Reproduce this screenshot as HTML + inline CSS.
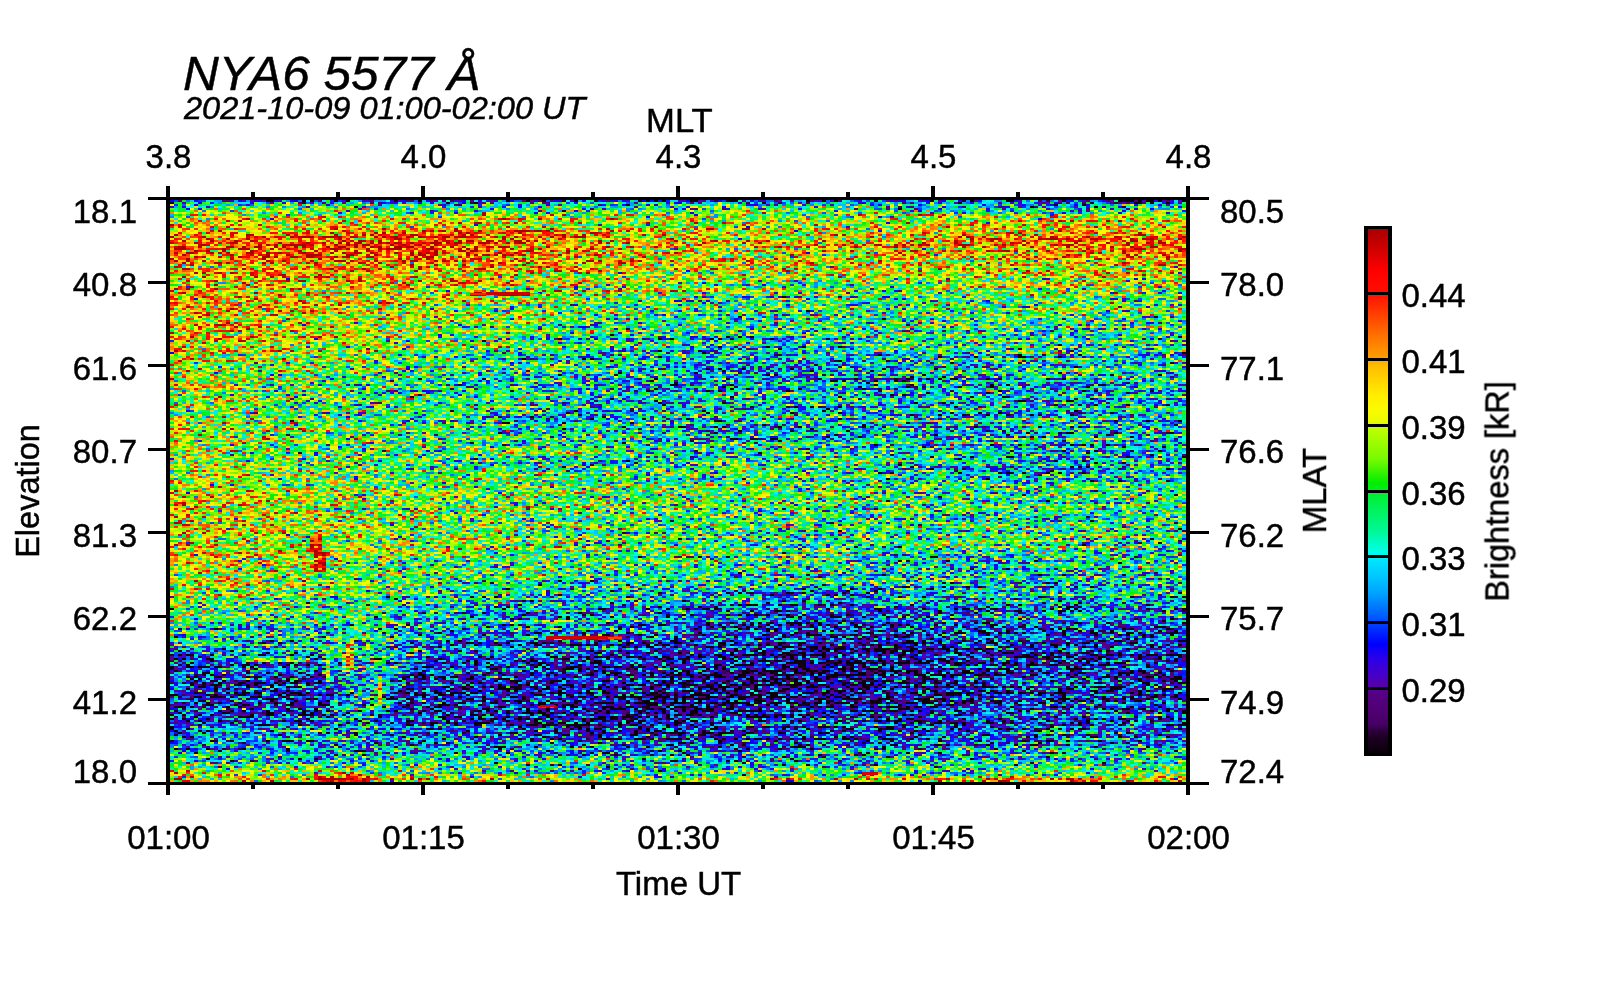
<!DOCTYPE html>
<html lang="en"><head><meta charset="utf-8"><title>NYA6 5577 Å keogram</title>
<style>
html,body{margin:0;padding:0;background:#fff;overflow:hidden}
svg{display:block}
text{font-family:"Liberation Sans",sans-serif;fill:#000;stroke:#000;stroke-width:0.45px}
</style></head><body>
<svg width="1600" height="1000" viewBox="0 0 1600 1000">
<defs>
<linearGradient id="c0" x1="0" y1="0" x2="0" y2="582" gradientUnits="userSpaceOnUse"><stop offset="0.0000" stop-color="#383838"/><stop offset="0.0034" stop-color="#4c4c4c"/><stop offset="0.0069" stop-color="#6e6e6e"/><stop offset="0.0155" stop-color="#787878"/><stop offset="0.0241" stop-color="#999999"/><stop offset="0.0378" stop-color="#a3a3a3"/><stop offset="0.0550" stop-color="#bababa"/><stop offset="0.0687" stop-color="#d1d1d1"/><stop offset="0.0790" stop-color="#d1d1d1"/><stop offset="0.0928" stop-color="#c7c7c7"/><stop offset="0.1100" stop-color="#bfbfbf"/><stop offset="0.1289" stop-color="#b6b6b6"/><stop offset="0.1495" stop-color="#b4b4b4"/><stop offset="0.1718" stop-color="#b6b6b6"/><stop offset="0.1924" stop-color="#b4b4b4"/><stop offset="0.2354" stop-color="#acacac"/><stop offset="0.2784" stop-color="#9f9f9f"/><stop offset="0.3213" stop-color="#9f9f9f"/><stop offset="0.3643" stop-color="#9d9d9d"/><stop offset="0.4072" stop-color="#9d9d9d"/><stop offset="0.4502" stop-color="#9d9d9d"/><stop offset="0.4931" stop-color="#a4a4a4"/><stop offset="0.5361" stop-color="#aaaaaa"/><stop offset="0.5790" stop-color="#a7a7a7"/><stop offset="0.6048" stop-color="#a4a4a4"/><stop offset="0.6220" stop-color="#a2a2a2"/><stop offset="0.6495" stop-color="#9f9f9f"/><stop offset="0.6701" stop-color="#999999"/><stop offset="0.6907" stop-color="#898989"/><stop offset="0.7113" stop-color="#7a7a7a"/><stop offset="0.7354" stop-color="#6a6a6a"/><stop offset="0.7560" stop-color="#5d5d5d"/><stop offset="0.7766" stop-color="#4f4f4f"/><stop offset="0.7990" stop-color="#404040"/><stop offset="0.8196" stop-color="#2f2f2f"/><stop offset="0.8419" stop-color="#2b2b2b"/><stop offset="0.8625" stop-color="#2f2f2f"/><stop offset="0.8849" stop-color="#363636"/><stop offset="0.9055" stop-color="#404040"/><stop offset="0.9364" stop-color="#545454"/><stop offset="0.9588" stop-color="#6e6e6e"/><stop offset="0.9794" stop-color="#949494"/><stop offset="0.9897" stop-color="#afafaf"/><stop offset="1.0000" stop-color="#c2c2c2"/></linearGradient>
<linearGradient id="c1" x1="0" y1="0" x2="0" y2="582" gradientUnits="userSpaceOnUse"><stop offset="0.0000" stop-color="#383838"/><stop offset="0.0034" stop-color="#4c4c4c"/><stop offset="0.0069" stop-color="#6e6e6e"/><stop offset="0.0155" stop-color="#787878"/><stop offset="0.0241" stop-color="#999999"/><stop offset="0.0378" stop-color="#a3a3a3"/><stop offset="0.0550" stop-color="#bababa"/><stop offset="0.0687" stop-color="#d1d1d1"/><stop offset="0.0790" stop-color="#d1d1d1"/><stop offset="0.0928" stop-color="#c7c7c7"/><stop offset="0.1100" stop-color="#bfbfbf"/><stop offset="0.1289" stop-color="#b6b6b6"/><stop offset="0.1495" stop-color="#b2b2b2"/><stop offset="0.1718" stop-color="#b2b2b2"/><stop offset="0.1924" stop-color="#afafaf"/><stop offset="0.2354" stop-color="#a8a8a8"/><stop offset="0.2784" stop-color="#9b9b9b"/><stop offset="0.3213" stop-color="#9b9b9b"/><stop offset="0.3643" stop-color="#989898"/><stop offset="0.4072" stop-color="#989898"/><stop offset="0.4502" stop-color="#989898"/><stop offset="0.4931" stop-color="#a0a0a0"/><stop offset="0.5361" stop-color="#a5a5a5"/><stop offset="0.5790" stop-color="#a3a3a3"/><stop offset="0.6048" stop-color="#a0a0a0"/><stop offset="0.6220" stop-color="#9e9e9e"/><stop offset="0.6495" stop-color="#9a9a9a"/><stop offset="0.6701" stop-color="#959595"/><stop offset="0.6907" stop-color="#898989"/><stop offset="0.7113" stop-color="#7a7a7a"/><stop offset="0.7354" stop-color="#6a6a6a"/><stop offset="0.7560" stop-color="#5d5d5d"/><stop offset="0.7766" stop-color="#4f4f4f"/><stop offset="0.7990" stop-color="#404040"/><stop offset="0.8196" stop-color="#2f2f2f"/><stop offset="0.8419" stop-color="#2b2b2b"/><stop offset="0.8625" stop-color="#2f2f2f"/><stop offset="0.8849" stop-color="#363636"/><stop offset="0.9055" stop-color="#404040"/><stop offset="0.9364" stop-color="#545454"/><stop offset="0.9588" stop-color="#6e6e6e"/><stop offset="0.9794" stop-color="#949494"/><stop offset="0.9897" stop-color="#afafaf"/><stop offset="1.0000" stop-color="#c2c2c2"/></linearGradient>
<linearGradient id="c2" x1="0" y1="0" x2="0" y2="582" gradientUnits="userSpaceOnUse"><stop offset="0.0000" stop-color="#383838"/><stop offset="0.0034" stop-color="#4c4c4c"/><stop offset="0.0069" stop-color="#6e6e6e"/><stop offset="0.0155" stop-color="#787878"/><stop offset="0.0241" stop-color="#9b9b9b"/><stop offset="0.0378" stop-color="#a8a8a8"/><stop offset="0.0550" stop-color="#c1c1c1"/><stop offset="0.0687" stop-color="#dadada"/><stop offset="0.0790" stop-color="#dadada"/><stop offset="0.0928" stop-color="#cbcbcb"/><stop offset="0.1100" stop-color="#c1c1c1"/><stop offset="0.1289" stop-color="#b8b8b8"/><stop offset="0.1495" stop-color="#b1b1b1"/><stop offset="0.1718" stop-color="#a7a7a7"/><stop offset="0.1924" stop-color="#a1a1a1"/><stop offset="0.2354" stop-color="#9b9b9b"/><stop offset="0.2784" stop-color="#8c8c8c"/><stop offset="0.3213" stop-color="#8b8b8b"/><stop offset="0.3643" stop-color="#898989"/><stop offset="0.4072" stop-color="#8a8a8a"/><stop offset="0.4502" stop-color="#8b8b8b"/><stop offset="0.4931" stop-color="#959595"/><stop offset="0.5361" stop-color="#9a9a9a"/><stop offset="0.5790" stop-color="#979797"/><stop offset="0.6048" stop-color="#939393"/><stop offset="0.6220" stop-color="#909090"/><stop offset="0.6495" stop-color="#8b8b8b"/><stop offset="0.6701" stop-color="#868686"/><stop offset="0.6907" stop-color="#7e7e7e"/><stop offset="0.7113" stop-color="#717171"/><stop offset="0.7354" stop-color="#626262"/><stop offset="0.7560" stop-color="#575757"/><stop offset="0.7766" stop-color="#4b4b4b"/><stop offset="0.7990" stop-color="#3c3c3c"/><stop offset="0.8196" stop-color="#2e2e2e"/><stop offset="0.8419" stop-color="#2a2a2a"/><stop offset="0.8625" stop-color="#2d2d2d"/><stop offset="0.8849" stop-color="#343434"/><stop offset="0.9055" stop-color="#3d3d3d"/><stop offset="0.9364" stop-color="#515151"/><stop offset="0.9588" stop-color="#6c6c6c"/><stop offset="0.9794" stop-color="#8c8c8c"/><stop offset="0.9897" stop-color="#a5a5a5"/><stop offset="1.0000" stop-color="#bababa"/></linearGradient>
<linearGradient id="c3" x1="0" y1="0" x2="0" y2="582" gradientUnits="userSpaceOnUse"><stop offset="0.0000" stop-color="#383838"/><stop offset="0.0034" stop-color="#4c4c4c"/><stop offset="0.0069" stop-color="#6e6e6e"/><stop offset="0.0155" stop-color="#787878"/><stop offset="0.0241" stop-color="#9d9d9d"/><stop offset="0.0378" stop-color="#afafaf"/><stop offset="0.0550" stop-color="#cdcdcd"/><stop offset="0.0687" stop-color="#e8e8e8"/><stop offset="0.0790" stop-color="#e8e8e8"/><stop offset="0.0928" stop-color="#d3d3d3"/><stop offset="0.1100" stop-color="#c5c5c5"/><stop offset="0.1289" stop-color="#b9b9b9"/><stop offset="0.1495" stop-color="#b2b2b2"/><stop offset="0.1718" stop-color="#a1a1a1"/><stop offset="0.1924" stop-color="#969696"/><stop offset="0.2354" stop-color="#929292"/><stop offset="0.2784" stop-color="#808080"/><stop offset="0.3213" stop-color="#7b7b7b"/><stop offset="0.3643" stop-color="#7b7b7b"/><stop offset="0.4072" stop-color="#7f7f7f"/><stop offset="0.4502" stop-color="#818181"/><stop offset="0.4931" stop-color="#8f8f8f"/><stop offset="0.5361" stop-color="#929292"/><stop offset="0.5790" stop-color="#8f8f8f"/><stop offset="0.6048" stop-color="#898989"/><stop offset="0.6220" stop-color="#848484"/><stop offset="0.6495" stop-color="#7d7d7d"/><stop offset="0.6701" stop-color="#767676"/><stop offset="0.6907" stop-color="#6c6c6c"/><stop offset="0.7113" stop-color="#626262"/><stop offset="0.7354" stop-color="#565656"/><stop offset="0.7560" stop-color="#4c4c4c"/><stop offset="0.7766" stop-color="#434343"/><stop offset="0.7990" stop-color="#363636"/><stop offset="0.8196" stop-color="#2c2c2c"/><stop offset="0.8419" stop-color="#2a2a2a"/><stop offset="0.8625" stop-color="#2a2a2a"/><stop offset="0.8849" stop-color="#313131"/><stop offset="0.9055" stop-color="#383838"/><stop offset="0.9364" stop-color="#4c4c4c"/><stop offset="0.9588" stop-color="#686868"/><stop offset="0.9794" stop-color="#808080"/><stop offset="0.9897" stop-color="#959595"/><stop offset="1.0000" stop-color="#adadad"/></linearGradient>
<linearGradient id="c4" x1="0" y1="0" x2="0" y2="582" gradientUnits="userSpaceOnUse"><stop offset="0.0000" stop-color="#373737"/><stop offset="0.0034" stop-color="#494949"/><stop offset="0.0069" stop-color="#6b6b6b"/><stop offset="0.0155" stop-color="#767676"/><stop offset="0.0241" stop-color="#9a9a9a"/><stop offset="0.0378" stop-color="#ababab"/><stop offset="0.0550" stop-color="#c7c7c7"/><stop offset="0.0687" stop-color="#dddddd"/><stop offset="0.0790" stop-color="#dedede"/><stop offset="0.0928" stop-color="#cccccc"/><stop offset="0.1100" stop-color="#bdbdbd"/><stop offset="0.1289" stop-color="#b2b2b2"/><stop offset="0.1495" stop-color="#aaaaaa"/><stop offset="0.1718" stop-color="#959595"/><stop offset="0.1924" stop-color="#888888"/><stop offset="0.2354" stop-color="#858585"/><stop offset="0.2784" stop-color="#707070"/><stop offset="0.3213" stop-color="#6b6b6b"/><stop offset="0.3643" stop-color="#6e6e6e"/><stop offset="0.4072" stop-color="#757575"/><stop offset="0.4502" stop-color="#797979"/><stop offset="0.4931" stop-color="#8a8a8a"/><stop offset="0.5361" stop-color="#8c8c8c"/><stop offset="0.5790" stop-color="#898989"/><stop offset="0.6048" stop-color="#828282"/><stop offset="0.6220" stop-color="#7e7e7e"/><stop offset="0.6495" stop-color="#757575"/><stop offset="0.6701" stop-color="#6d6d6d"/><stop offset="0.6907" stop-color="#616161"/><stop offset="0.7113" stop-color="#575757"/><stop offset="0.7354" stop-color="#4c4c4c"/><stop offset="0.7560" stop-color="#434343"/><stop offset="0.7766" stop-color="#3a3a3a"/><stop offset="0.7990" stop-color="#2e2e2e"/><stop offset="0.8196" stop-color="#272727"/><stop offset="0.8419" stop-color="#262626"/><stop offset="0.8625" stop-color="#252525"/><stop offset="0.8849" stop-color="#2b2b2b"/><stop offset="0.9055" stop-color="#313131"/><stop offset="0.9364" stop-color="#464646"/><stop offset="0.9588" stop-color="#616161"/><stop offset="0.9794" stop-color="#757575"/><stop offset="0.9897" stop-color="#898989"/><stop offset="1.0000" stop-color="#a2a2a2"/></linearGradient>
<linearGradient id="c5" x1="0" y1="0" x2="0" y2="582" gradientUnits="userSpaceOnUse"><stop offset="0.0000" stop-color="#343434"/><stop offset="0.0034" stop-color="#444444"/><stop offset="0.0069" stop-color="#686868"/><stop offset="0.0155" stop-color="#727272"/><stop offset="0.0241" stop-color="#929292"/><stop offset="0.0378" stop-color="#a0a0a0"/><stop offset="0.0550" stop-color="#b5b5b5"/><stop offset="0.0687" stop-color="#c3c3c3"/><stop offset="0.0790" stop-color="#c6c6c6"/><stop offset="0.0928" stop-color="#bababa"/><stop offset="0.1100" stop-color="#afafaf"/><stop offset="0.1289" stop-color="#a5a5a5"/><stop offset="0.1495" stop-color="#9c9c9c"/><stop offset="0.1718" stop-color="#868686"/><stop offset="0.1924" stop-color="#797979"/><stop offset="0.2354" stop-color="#747474"/><stop offset="0.2784" stop-color="#606060"/><stop offset="0.3213" stop-color="#5b5b5b"/><stop offset="0.3643" stop-color="#636363"/><stop offset="0.4072" stop-color="#6c6c6c"/><stop offset="0.4502" stop-color="#737373"/><stop offset="0.4931" stop-color="#868686"/><stop offset="0.5361" stop-color="#878787"/><stop offset="0.5790" stop-color="#848484"/><stop offset="0.6048" stop-color="#7f7f7f"/><stop offset="0.6220" stop-color="#7b7b7b"/><stop offset="0.6495" stop-color="#727272"/><stop offset="0.6701" stop-color="#696969"/><stop offset="0.6907" stop-color="#595959"/><stop offset="0.7113" stop-color="#4f4f4f"/><stop offset="0.7354" stop-color="#434343"/><stop offset="0.7560" stop-color="#3a3a3a"/><stop offset="0.7766" stop-color="#313131"/><stop offset="0.7990" stop-color="#272727"/><stop offset="0.8196" stop-color="#1f1f1f"/><stop offset="0.8419" stop-color="#1f1f1f"/><stop offset="0.8625" stop-color="#1f1f1f"/><stop offset="0.8849" stop-color="#242424"/><stop offset="0.9055" stop-color="#292929"/><stop offset="0.9364" stop-color="#404040"/><stop offset="0.9588" stop-color="#5a5a5a"/><stop offset="0.9794" stop-color="#6c6c6c"/><stop offset="0.9897" stop-color="#7e7e7e"/><stop offset="1.0000" stop-color="#989898"/></linearGradient>
<linearGradient id="c6" x1="0" y1="0" x2="0" y2="582" gradientUnits="userSpaceOnUse"><stop offset="0.0000" stop-color="#313131"/><stop offset="0.0034" stop-color="#414141"/><stop offset="0.0069" stop-color="#616161"/><stop offset="0.0155" stop-color="#6c6c6c"/><stop offset="0.0241" stop-color="#8c8c8c"/><stop offset="0.0378" stop-color="#989898"/><stop offset="0.0550" stop-color="#ababab"/><stop offset="0.0687" stop-color="#b5b5b5"/><stop offset="0.0790" stop-color="#b9b9b9"/><stop offset="0.0928" stop-color="#b1b1b1"/><stop offset="0.1100" stop-color="#a8a8a8"/><stop offset="0.1289" stop-color="#9d9d9d"/><stop offset="0.1495" stop-color="#919191"/><stop offset="0.1718" stop-color="#7e7e7e"/><stop offset="0.1924" stop-color="#747474"/><stop offset="0.2354" stop-color="#707070"/><stop offset="0.2784" stop-color="#5c5c5c"/><stop offset="0.3213" stop-color="#565656"/><stop offset="0.3643" stop-color="#5e5e5e"/><stop offset="0.4072" stop-color="#676767"/><stop offset="0.4502" stop-color="#6e6e6e"/><stop offset="0.4931" stop-color="#818181"/><stop offset="0.5361" stop-color="#828282"/><stop offset="0.5790" stop-color="#808080"/><stop offset="0.6048" stop-color="#7c7c7c"/><stop offset="0.6220" stop-color="#787878"/><stop offset="0.6495" stop-color="#6f6f6f"/><stop offset="0.6701" stop-color="#636363"/><stop offset="0.6907" stop-color="#515151"/><stop offset="0.7113" stop-color="#464646"/><stop offset="0.7354" stop-color="#393939"/><stop offset="0.7560" stop-color="#313131"/><stop offset="0.7766" stop-color="#292929"/><stop offset="0.7990" stop-color="#212121"/><stop offset="0.8196" stop-color="#1a1a1a"/><stop offset="0.8419" stop-color="#1a1a1a"/><stop offset="0.8625" stop-color="#1a1a1a"/><stop offset="0.8849" stop-color="#202020"/><stop offset="0.9055" stop-color="#262626"/><stop offset="0.9364" stop-color="#3d3d3d"/><stop offset="0.9588" stop-color="#575757"/><stop offset="0.9794" stop-color="#696969"/><stop offset="0.9897" stop-color="#7c7c7c"/><stop offset="1.0000" stop-color="#979797"/></linearGradient>
<linearGradient id="c7" x1="0" y1="0" x2="0" y2="582" gradientUnits="userSpaceOnUse"><stop offset="0.0000" stop-color="#2f2f2f"/><stop offset="0.0034" stop-color="#3e3e3e"/><stop offset="0.0069" stop-color="#5a5a5a"/><stop offset="0.0155" stop-color="#646464"/><stop offset="0.0241" stop-color="#878787"/><stop offset="0.0378" stop-color="#939393"/><stop offset="0.0550" stop-color="#a6a6a6"/><stop offset="0.0687" stop-color="#b0b0b0"/><stop offset="0.0790" stop-color="#b4b4b4"/><stop offset="0.0928" stop-color="#adadad"/><stop offset="0.1100" stop-color="#a5a5a5"/><stop offset="0.1289" stop-color="#979797"/><stop offset="0.1495" stop-color="#888888"/><stop offset="0.1718" stop-color="#7b7b7b"/><stop offset="0.1924" stop-color="#777777"/><stop offset="0.2354" stop-color="#747474"/><stop offset="0.2784" stop-color="#616161"/><stop offset="0.3213" stop-color="#5a5a5a"/><stop offset="0.3643" stop-color="#5c5c5c"/><stop offset="0.4072" stop-color="#646464"/><stop offset="0.4502" stop-color="#6a6a6a"/><stop offset="0.4931" stop-color="#7a7a7a"/><stop offset="0.5361" stop-color="#7c7c7c"/><stop offset="0.5790" stop-color="#7c7c7c"/><stop offset="0.6048" stop-color="#797979"/><stop offset="0.6220" stop-color="#747474"/><stop offset="0.6495" stop-color="#6c6c6c"/><stop offset="0.6701" stop-color="#5c5c5c"/><stop offset="0.6907" stop-color="#484848"/><stop offset="0.7113" stop-color="#3d3d3d"/><stop offset="0.7354" stop-color="#2f2f2f"/><stop offset="0.7560" stop-color="#282828"/><stop offset="0.7766" stop-color="#222222"/><stop offset="0.7990" stop-color="#1c1c1c"/><stop offset="0.8196" stop-color="#181818"/><stop offset="0.8419" stop-color="#161616"/><stop offset="0.8625" stop-color="#181818"/><stop offset="0.8849" stop-color="#1f1f1f"/><stop offset="0.9055" stop-color="#262626"/><stop offset="0.9364" stop-color="#3d3d3d"/><stop offset="0.9588" stop-color="#575757"/><stop offset="0.9794" stop-color="#696969"/><stop offset="0.9897" stop-color="#7e7e7e"/><stop offset="1.0000" stop-color="#9c9c9c"/></linearGradient>
<linearGradient id="c8" x1="0" y1="0" x2="0" y2="582" gradientUnits="userSpaceOnUse"><stop offset="0.0000" stop-color="#2d2d2d"/><stop offset="0.0034" stop-color="#3c3c3c"/><stop offset="0.0069" stop-color="#5c5c5c"/><stop offset="0.0155" stop-color="#676767"/><stop offset="0.0241" stop-color="#8b8b8b"/><stop offset="0.0378" stop-color="#979797"/><stop offset="0.0550" stop-color="#ababab"/><stop offset="0.0687" stop-color="#b6b6b6"/><stop offset="0.0790" stop-color="#b9b9b9"/><stop offset="0.0928" stop-color="#b2b2b2"/><stop offset="0.1100" stop-color="#a9a9a9"/><stop offset="0.1289" stop-color="#9a9a9a"/><stop offset="0.1495" stop-color="#888888"/><stop offset="0.1718" stop-color="#7c7c7c"/><stop offset="0.1924" stop-color="#787878"/><stop offset="0.2354" stop-color="#737373"/><stop offset="0.2784" stop-color="#626262"/><stop offset="0.3213" stop-color="#5b5b5b"/><stop offset="0.3643" stop-color="#5b5b5b"/><stop offset="0.4072" stop-color="#616161"/><stop offset="0.4502" stop-color="#676767"/><stop offset="0.4931" stop-color="#767676"/><stop offset="0.5361" stop-color="#797979"/><stop offset="0.5790" stop-color="#797979"/><stop offset="0.6048" stop-color="#787878"/><stop offset="0.6220" stop-color="#717171"/><stop offset="0.6495" stop-color="#676767"/><stop offset="0.6701" stop-color="#595959"/><stop offset="0.6907" stop-color="#4a4a4a"/><stop offset="0.7113" stop-color="#3f3f3f"/><stop offset="0.7354" stop-color="#333333"/><stop offset="0.7560" stop-color="#2b2b2b"/><stop offset="0.7766" stop-color="#242424"/><stop offset="0.7990" stop-color="#1f1f1f"/><stop offset="0.8196" stop-color="#1d1d1d"/><stop offset="0.8419" stop-color="#1d1d1d"/><stop offset="0.8625" stop-color="#202020"/><stop offset="0.8849" stop-color="#282828"/><stop offset="0.9055" stop-color="#303030"/><stop offset="0.9364" stop-color="#454545"/><stop offset="0.9588" stop-color="#5a5a5a"/><stop offset="0.9794" stop-color="#6d6d6d"/><stop offset="0.9897" stop-color="#868686"/><stop offset="1.0000" stop-color="#a8a8a8"/></linearGradient>
<linearGradient id="c9" x1="0" y1="0" x2="0" y2="582" gradientUnits="userSpaceOnUse"><stop offset="0.0000" stop-color="#2b2b2b"/><stop offset="0.0034" stop-color="#3a3a3a"/><stop offset="0.0069" stop-color="#646464"/><stop offset="0.0155" stop-color="#717171"/><stop offset="0.0241" stop-color="#959595"/><stop offset="0.0378" stop-color="#a2a2a2"/><stop offset="0.0550" stop-color="#b7b7b7"/><stop offset="0.0687" stop-color="#c4c4c4"/><stop offset="0.0790" stop-color="#c6c6c6"/><stop offset="0.0928" stop-color="#bdbdbd"/><stop offset="0.1100" stop-color="#b1b1b1"/><stop offset="0.1289" stop-color="#a1a1a1"/><stop offset="0.1495" stop-color="#8e8e8e"/><stop offset="0.1718" stop-color="#808080"/><stop offset="0.1924" stop-color="#787878"/><stop offset="0.2354" stop-color="#6f6f6f"/><stop offset="0.2784" stop-color="#5f5f5f"/><stop offset="0.3213" stop-color="#595959"/><stop offset="0.3643" stop-color="#595959"/><stop offset="0.4072" stop-color="#5d5d5d"/><stop offset="0.4502" stop-color="#646464"/><stop offset="0.4931" stop-color="#737373"/><stop offset="0.5361" stop-color="#777777"/><stop offset="0.5790" stop-color="#787878"/><stop offset="0.6048" stop-color="#787878"/><stop offset="0.6220" stop-color="#6e6e6e"/><stop offset="0.6495" stop-color="#616161"/><stop offset="0.6701" stop-color="#595959"/><stop offset="0.6907" stop-color="#505050"/><stop offset="0.7113" stop-color="#474747"/><stop offset="0.7354" stop-color="#3c3c3c"/><stop offset="0.7560" stop-color="#333333"/><stop offset="0.7766" stop-color="#2c2c2c"/><stop offset="0.7990" stop-color="#282828"/><stop offset="0.8196" stop-color="#272727"/><stop offset="0.8419" stop-color="#2a2a2a"/><stop offset="0.8625" stop-color="#2e2e2e"/><stop offset="0.8849" stop-color="#363636"/><stop offset="0.9055" stop-color="#3f3f3f"/><stop offset="0.9364" stop-color="#505050"/><stop offset="0.9588" stop-color="#5f5f5f"/><stop offset="0.9794" stop-color="#747474"/><stop offset="0.9897" stop-color="#909090"/><stop offset="1.0000" stop-color="#b8b8b8"/></linearGradient>
<linearGradient id="c10" x1="0" y1="0" x2="0" y2="582" gradientUnits="userSpaceOnUse"><stop offset="0.0000" stop-color="#292929"/><stop offset="0.0034" stop-color="#383838"/><stop offset="0.0069" stop-color="#6b6b6b"/><stop offset="0.0155" stop-color="#7a7a7a"/><stop offset="0.0241" stop-color="#9e9e9e"/><stop offset="0.0378" stop-color="#acacac"/><stop offset="0.0550" stop-color="#c2c2c2"/><stop offset="0.0687" stop-color="#d1d1d1"/><stop offset="0.0790" stop-color="#d1d1d1"/><stop offset="0.0928" stop-color="#c7c7c7"/><stop offset="0.1100" stop-color="#b9b9b9"/><stop offset="0.1289" stop-color="#a8a8a8"/><stop offset="0.1495" stop-color="#949494"/><stop offset="0.1718" stop-color="#838383"/><stop offset="0.1924" stop-color="#787878"/><stop offset="0.2354" stop-color="#6c6c6c"/><stop offset="0.2784" stop-color="#5d5d5d"/><stop offset="0.3213" stop-color="#585858"/><stop offset="0.3643" stop-color="#585858"/><stop offset="0.4072" stop-color="#595959"/><stop offset="0.4502" stop-color="#626262"/><stop offset="0.4931" stop-color="#717171"/><stop offset="0.5361" stop-color="#747474"/><stop offset="0.5790" stop-color="#767676"/><stop offset="0.6048" stop-color="#787878"/><stop offset="0.6220" stop-color="#737373"/><stop offset="0.6495" stop-color="#676767"/><stop offset="0.6701" stop-color="#5a5a5a"/><stop offset="0.6907" stop-color="#4c4c4c"/><stop offset="0.7113" stop-color="#414141"/><stop offset="0.7354" stop-color="#333333"/><stop offset="0.7560" stop-color="#2f2f2f"/><stop offset="0.7766" stop-color="#2b2b2b"/><stop offset="0.7990" stop-color="#292929"/><stop offset="0.8196" stop-color="#262626"/><stop offset="0.8419" stop-color="#292929"/><stop offset="0.8625" stop-color="#2b2b2b"/><stop offset="0.8849" stop-color="#333333"/><stop offset="0.9055" stop-color="#3b3b3b"/><stop offset="0.9364" stop-color="#4f4f4f"/><stop offset="0.9588" stop-color="#636363"/><stop offset="0.9794" stop-color="#7a7a7a"/><stop offset="0.9897" stop-color="#999999"/><stop offset="1.0000" stop-color="#c7c7c7"/></linearGradient>
<linearGradient id="c11" x1="0" y1="0" x2="0" y2="582" gradientUnits="userSpaceOnUse"><stop offset="0.0000" stop-color="#292929"/><stop offset="0.0034" stop-color="#383838"/><stop offset="0.0069" stop-color="#6b6b6b"/><stop offset="0.0155" stop-color="#7a7a7a"/><stop offset="0.0241" stop-color="#9e9e9e"/><stop offset="0.0378" stop-color="#acacac"/><stop offset="0.0550" stop-color="#c2c2c2"/><stop offset="0.0687" stop-color="#d1d1d1"/><stop offset="0.0790" stop-color="#d1d1d1"/><stop offset="0.0928" stop-color="#c7c7c7"/><stop offset="0.1100" stop-color="#b9b9b9"/><stop offset="0.1289" stop-color="#a8a8a8"/><stop offset="0.1495" stop-color="#949494"/><stop offset="0.1718" stop-color="#838383"/><stop offset="0.1924" stop-color="#787878"/><stop offset="0.2354" stop-color="#737373"/><stop offset="0.2784" stop-color="#636363"/><stop offset="0.3213" stop-color="#5e5e5e"/><stop offset="0.3643" stop-color="#5e5e5e"/><stop offset="0.4072" stop-color="#5a5a5a"/><stop offset="0.4502" stop-color="#626262"/><stop offset="0.4931" stop-color="#717171"/><stop offset="0.5361" stop-color="#747474"/><stop offset="0.5790" stop-color="#767676"/><stop offset="0.6048" stop-color="#787878"/><stop offset="0.6220" stop-color="#737373"/><stop offset="0.6495" stop-color="#676767"/><stop offset="0.6701" stop-color="#5a5a5a"/><stop offset="0.6907" stop-color="#4c4c4c"/><stop offset="0.7113" stop-color="#414141"/><stop offset="0.7354" stop-color="#333333"/><stop offset="0.7560" stop-color="#2f2f2f"/><stop offset="0.7766" stop-color="#2b2b2b"/><stop offset="0.7990" stop-color="#292929"/><stop offset="0.8196" stop-color="#262626"/><stop offset="0.8419" stop-color="#292929"/><stop offset="0.8625" stop-color="#2b2b2b"/><stop offset="0.8849" stop-color="#333333"/><stop offset="0.9055" stop-color="#3b3b3b"/><stop offset="0.9364" stop-color="#4f4f4f"/><stop offset="0.9588" stop-color="#636363"/><stop offset="0.9794" stop-color="#7a7a7a"/><stop offset="0.9897" stop-color="#999999"/><stop offset="1.0000" stop-color="#c7c7c7"/></linearGradient>
<linearGradient id="c12" x1="0" y1="0" x2="0" y2="582" gradientUnits="userSpaceOnUse"><stop offset="0.0000" stop-color="#292929"/><stop offset="0.0034" stop-color="#383838"/><stop offset="0.0069" stop-color="#6b6b6b"/><stop offset="0.0155" stop-color="#7a7a7a"/><stop offset="0.0241" stop-color="#9e9e9e"/><stop offset="0.0378" stop-color="#acacac"/><stop offset="0.0550" stop-color="#c2c2c2"/><stop offset="0.0687" stop-color="#d1d1d1"/><stop offset="0.0790" stop-color="#d1d1d1"/><stop offset="0.0928" stop-color="#c7c7c7"/><stop offset="0.1100" stop-color="#b9b9b9"/><stop offset="0.1289" stop-color="#a8a8a8"/><stop offset="0.1495" stop-color="#949494"/><stop offset="0.1718" stop-color="#838383"/><stop offset="0.1924" stop-color="#787878"/><stop offset="0.2354" stop-color="#737373"/><stop offset="0.2784" stop-color="#636363"/><stop offset="0.3213" stop-color="#5e5e5e"/><stop offset="0.3643" stop-color="#5e5e5e"/><stop offset="0.4072" stop-color="#5a5a5a"/><stop offset="0.4502" stop-color="#626262"/><stop offset="0.4931" stop-color="#717171"/><stop offset="0.5361" stop-color="#747474"/><stop offset="0.5790" stop-color="#767676"/><stop offset="0.6048" stop-color="#787878"/><stop offset="0.6220" stop-color="#737373"/><stop offset="0.6495" stop-color="#676767"/><stop offset="0.6701" stop-color="#5a5a5a"/><stop offset="0.6907" stop-color="#4c4c4c"/><stop offset="0.7113" stop-color="#414141"/><stop offset="0.7354" stop-color="#333333"/><stop offset="0.7560" stop-color="#2f2f2f"/><stop offset="0.7766" stop-color="#2b2b2b"/><stop offset="0.7990" stop-color="#292929"/><stop offset="0.8196" stop-color="#262626"/><stop offset="0.8419" stop-color="#292929"/><stop offset="0.8625" stop-color="#2b2b2b"/><stop offset="0.8849" stop-color="#333333"/><stop offset="0.9055" stop-color="#3b3b3b"/><stop offset="0.9364" stop-color="#4f4f4f"/><stop offset="0.9588" stop-color="#636363"/><stop offset="0.9794" stop-color="#7a7a7a"/><stop offset="0.9897" stop-color="#999999"/><stop offset="1.0000" stop-color="#c7c7c7"/></linearGradient>
<linearGradient id="cb" x1="0" y1="229" x2="0" y2="752" gradientUnits="userSpaceOnUse"><stop offset="0.0000" stop-color="rgb(170,0,0)"/><stop offset="0.0402" stop-color="rgb(210,0,0)"/><stop offset="0.0803" stop-color="rgb(255,0,0)"/><stop offset="0.1224" stop-color="rgb(255,15,0)"/><stop offset="0.1606" stop-color="rgb(255,60,0)"/><stop offset="0.2008" stop-color="rgb(255,110,0)"/><stop offset="0.2428" stop-color="rgb(255,155,0)"/><stop offset="0.2620" stop-color="rgb(255,190,0)"/><stop offset="0.3212" stop-color="rgb(255,240,0)"/><stop offset="0.3461" stop-color="rgb(250,250,0)"/><stop offset="0.3671" stop-color="rgb(235,252,0)"/><stop offset="0.3805" stop-color="rgb(190,255,0)"/><stop offset="0.4398" stop-color="rgb(120,250,0)"/><stop offset="0.4857" stop-color="rgb(0,238,0)"/><stop offset="0.5124" stop-color="rgb(0,240,60)"/><stop offset="0.5774" stop-color="rgb(0,248,150)"/><stop offset="0.6176" stop-color="rgb(0,255,235)"/><stop offset="0.6386" stop-color="rgb(0,222,255)"/><stop offset="0.6635" stop-color="rgb(0,200,255)"/><stop offset="0.6979" stop-color="rgb(0,160,255)"/><stop offset="0.7419" stop-color="rgb(0,90,255)"/><stop offset="0.7629" stop-color="rgb(0,50,255)"/><stop offset="0.7935" stop-color="rgb(0,0,255)"/><stop offset="0.8222" stop-color="rgb(45,0,230)"/><stop offset="0.8528" stop-color="rgb(70,0,200)"/><stop offset="0.8738" stop-color="rgb(85,0,165)"/><stop offset="0.8910" stop-color="rgb(85,0,130)"/><stop offset="0.9216" stop-color="rgb(80,0,115)"/><stop offset="0.9465" stop-color="rgb(70,0,100)"/><stop offset="0.9637" stop-color="rgb(38,0,50)"/><stop offset="0.9771" stop-color="rgb(25,0,30)"/><stop offset="1.0000" stop-color="rgb(12,0,12)"/></linearGradient>

<filter id="hm" x="0" y="0" width="1016" height="582" filterUnits="userSpaceOnUse" color-interpolation-filters="sRGB">
<feTurbulence type="fractalNoise" baseFrequency="0.75 1" numOctaves="1" seed="7" result="turb"/>
<feColorMatrix in="turb" type="matrix" values="0.3333 0.3333 0.3333 0 0  0.3333 0.3333 0.3333 0 0  0.3333 0.3333 0.3333 0 0  0 0 0 0 1" result="noise"/>
<feTurbulence type="fractalNoise" baseFrequency="0.004 0.83" numOctaves="1" seed="3" result="turb2"/>
<feColorMatrix in="turb2" type="matrix" values="0.3333 0.3333 0.3333 0 0  0.3333 0.3333 0.3333 0 0  0.3333 0.3333 0.3333 0 0  0 0 0 0 1" result="rown"/>
<feComposite in="noise" in2="rown" operator="arithmetic" k1="0" k2="1" k3="0.4" k4="-0.2" result="noise2"/>
<feComposite in="SourceGraphic" in2="noise2" operator="arithmetic" k1="0" k2="1" k3="2.280" k4="-1.140" result="val"/>
<feFlood x="1" y="0" width="1" height="1" flood-color="#000"/>
<feComposite x="0" y="0" width="4" height="2"/>
<feTile result="grid"/>
<feComposite in="val" in2="grid" operator="in" result="s0"/>
<feOffset in="s0" dx="-1" dy="0" result="s1"/>
<feMerge result="s2"><feMergeNode in="s0"/><feMergeNode in="s1"/></feMerge>
<feOffset in="s2" dx="2" dy="0" result="s3"/>
<feMerge result="s4"><feMergeNode in="s2"/><feMergeNode in="s3"/></feMerge>
<feOffset in="s4" dx="0" dy="1" result="s5"/>
<feMerge result="pix"><feMergeNode in="s4"/><feMergeNode in="s5"/></feMerge>
<feComponentTransfer in="pix">
<feFuncR type="table" tableValues="0.047 0.07 0.093 0.13 0.188 0.264 0.289 0.305 0.317 0.324 0.33 0.333 0.333 0.308 0.278 0.246 0.212 0.179 0.117 0.053 0 0 0 0 0 0 0 0 0 0 0 0 0 0 0 0 0 0 0 0 0 0 0 0 0 0 0 0 0 0 0.067 0.173 0.28 0.387 0.481 0.529 0.578 0.626 0.674 0.722 0.818 0.929 0.958 0.982 0.99 0.999 1 1 1 1 1 1 1 1 1 1 1 1 1 1 1 1 1 1 1 1 1 1 1 0.968 0.922 0.876 0.83 0.789 0.748 0.707 0.667"/>
<feFuncG type="table" tableValues="0 0 0 0 0 0 0 0 0 0 0 0 0 0 0 0 0 0 0 0 0.012 0.079 0.145 0.215 0.292 0.367 0.432 0.497 0.562 0.627 0.675 0.722 0.77 0.809 0.846 0.89 0.954 0.998 0.991 0.984 0.977 0.97 0.965 0.96 0.955 0.95 0.945 0.941 0.938 0.934 0.94 0.951 0.961 0.972 0.981 0.985 0.988 0.991 0.995 0.998 0.995 0.987 0.983 0.977 0.96 0.944 0.912 0.878 0.843 0.809 0.774 0.734 0.659 0.594 0.551 0.507 0.463 0.417 0.367 0.316 0.265 0.215 0.167 0.119 0.071 0.048 0.033 0.019 0.004 0 0 0 0 0 0 0 0"/>
<feFuncB type="table" tableValues="0.047 0.079 0.111 0.166 0.257 0.376 0.413 0.438 0.46 0.481 0.501 0.554 0.638 0.707 0.775 0.819 0.859 0.899 0.935 0.971 1 1 1 1 1 1 1 1 1 1 1 1 1 1 1 0.988 0.949 0.897 0.81 0.724 0.637 0.564 0.507 0.451 0.394 0.337 0.281 0.218 0.126 0.034 0 0 0 0 0 0 0 0 0 0 0 0 0 0 0 0 0 0 0 0 0 0 0 0 0 0 0 0 0 0 0 0 0 0 0 0 0 0 0 0 0 0 0 0 0 0 0"/>
</feComponentTransfer>
</filter>
<filter id="bl" x="-100" y="-20" width="1216" height="622" filterUnits="userSpaceOnUse" color-interpolation-filters="sRGB">
<feGaussianBlur stdDeviation="45 0"/>
</filter>
<filter id="sb" x="-100" y="-20" width="1216" height="622" filterUnits="userSpaceOnUse" color-interpolation-filters="sRGB">
<feGaussianBlur stdDeviation="10 8"/>
</filter>
<clipPath id="cp"><rect x="0" y="0" width="1016" height="582"/></clipPath>

</defs>
<rect width="1600" height="1000" fill="#fff"/>
<g transform="translate(170,200)">
<g filter="url(#hm)">
<g clip-path="url(#cp)">
<g filter="url(#bl)">
<rect x="-110.0" y="-10" width="100.5" height="602" fill="url(#c0)"/>
<rect x="-10.0" y="-10" width="100.5" height="602" fill="url(#c1)"/>
<rect x="90.0" y="-10" width="100.5" height="602" fill="url(#c2)"/>
<rect x="190.0" y="-10" width="100.5" height="602" fill="url(#c3)"/>
<rect x="290.0" y="-10" width="100.5" height="602" fill="url(#c4)"/>
<rect x="390.0" y="-10" width="100.5" height="602" fill="url(#c5)"/>
<rect x="490.0" y="-10" width="100.5" height="602" fill="url(#c6)"/>
<rect x="590.0" y="-10" width="100.5" height="602" fill="url(#c7)"/>
<rect x="690.0" y="-10" width="100.5" height="602" fill="url(#c8)"/>
<rect x="790.0" y="-10" width="100.5" height="602" fill="url(#c9)"/>
<rect x="890.0" y="-10" width="100.5" height="602" fill="url(#c10)"/>
<rect x="990.0" y="-10" width="80.5" height="602" fill="url(#c11)"/>
<rect x="1070.0" y="-10" width="80.5" height="602" fill="url(#c12)"/>
</g>
<g filter="url(#sb)">
<rect x="160" y="412" width="65" height="110" fill="#6b6b6b" opacity="0.75"/>
</g>
<rect x="298" y="92" width="62" height="4" fill="#f2f2f2" opacity="1"/>
<rect x="375" y="436" width="75" height="4" fill="#f2f2f2" opacity="1"/>
<rect x="369" y="505" width="18" height="2" fill="#ebebeb" opacity="1"/>
<rect x="138" y="336" width="12" height="16" fill="#ededed" opacity="0.95"/>
<rect x="142" y="352" width="12" height="20" fill="#ededed" opacity="0.95"/>
<rect x="177" y="440" width="5" height="30" fill="#bfbfbf" opacity="0.9"/>
<rect x="206" y="476" width="4" height="30" fill="#a8a8a8" opacity="0.9"/>
<rect x="155" y="458" width="4" height="24" fill="#999999" opacity="0.8"/>
<rect x="71" y="458" width="70" height="3" fill="#b8b8b8" opacity="0.7"/>
<rect x="690" y="572" width="18" height="3" fill="#ededed" opacity="1"/>
<rect x="146" y="576" width="54" height="6" fill="#ededed" opacity="0.9"/>
<rect x="160" y="572" width="30" height="4" fill="#e6e6e6" opacity="0.8"/>
<rect x="810" y="577" width="120" height="5" fill="#e6e6e6" opacity="0.8"/>
<rect x="940" y="0" width="60" height="3" fill="#0d0d0d" opacity="0.9"/>
</g>
</g>
</g>
<g shape-rendering="crispEdges">
<rect x="486" y="292" width="44" height="3" fill="#c80000"/>
<rect x="470" y="293" width="16" height="2" fill="#ff2000"/>
<rect x="530" y="293" width="10" height="1" fill="#ff5000"/>
<rect x="546" y="636" width="62" height="3" fill="#d00000"/>
<rect x="608" y="637" width="14" height="2" fill="#ff4000"/>
<rect x="540" y="705" width="16" height="2" fill="#e00000"/>
<rect x="862" y="772" width="16" height="3" fill="#d80000"/>
<rect x="166" y="197" width="4" height="588" fill="#000"/>
<rect x="1186" y="197" width="4" height="588" fill="#000"/>
<rect x="166" y="197" width="1024" height="3" fill="#000"/>
<rect x="166" y="782" width="1024" height="3" fill="#000"/>
<rect x="166" y="186" width="4" height="11" fill="#000"/>
<rect x="166" y="785" width="4" height="10" fill="#000"/>
<rect x="251" y="192" width="4" height="5" fill="#000"/>
<rect x="251" y="785" width="4" height="4" fill="#000"/>
<rect x="336" y="192" width="4" height="5" fill="#000"/>
<rect x="336" y="785" width="4" height="4" fill="#000"/>
<rect x="421" y="186" width="4" height="11" fill="#000"/>
<rect x="421" y="785" width="4" height="10" fill="#000"/>
<rect x="506" y="192" width="4" height="5" fill="#000"/>
<rect x="506" y="785" width="4" height="4" fill="#000"/>
<rect x="591" y="192" width="4" height="5" fill="#000"/>
<rect x="591" y="785" width="4" height="4" fill="#000"/>
<rect x="676" y="186" width="4" height="11" fill="#000"/>
<rect x="676" y="785" width="4" height="10" fill="#000"/>
<rect x="761" y="192" width="4" height="5" fill="#000"/>
<rect x="761" y="785" width="4" height="4" fill="#000"/>
<rect x="846" y="192" width="4" height="5" fill="#000"/>
<rect x="846" y="785" width="4" height="4" fill="#000"/>
<rect x="931" y="186" width="4" height="11" fill="#000"/>
<rect x="931" y="785" width="4" height="10" fill="#000"/>
<rect x="1016" y="192" width="4" height="5" fill="#000"/>
<rect x="1016" y="785" width="4" height="4" fill="#000"/>
<rect x="1101" y="192" width="4" height="5" fill="#000"/>
<rect x="1101" y="785" width="4" height="4" fill="#000"/>
<rect x="1186" y="186" width="4" height="11" fill="#000"/>
<rect x="1186" y="785" width="4" height="10" fill="#000"/>
<rect x="148" y="197" width="18" height="3" fill="#000"/>
<rect x="1190" y="197" width="19" height="3" fill="#000"/>
<rect x="148" y="281" width="18" height="3" fill="#000"/>
<rect x="1190" y="281" width="19" height="3" fill="#000"/>
<rect x="148" y="364" width="18" height="3" fill="#000"/>
<rect x="1190" y="364" width="19" height="3" fill="#000"/>
<rect x="148" y="448" width="18" height="3" fill="#000"/>
<rect x="1190" y="448" width="19" height="3" fill="#000"/>
<rect x="148" y="531" width="18" height="3" fill="#000"/>
<rect x="1190" y="531" width="19" height="3" fill="#000"/>
<rect x="148" y="615" width="18" height="3" fill="#000"/>
<rect x="1190" y="615" width="19" height="3" fill="#000"/>
<rect x="148" y="698" width="18" height="3" fill="#000"/>
<rect x="1190" y="698" width="19" height="3" fill="#000"/>
<rect x="148" y="782" width="18" height="3" fill="#000"/>
<rect x="1190" y="782" width="19" height="3" fill="#000"/>
<rect x="1364" y="226" width="28" height="530" fill="#000"/>
<rect x="1368" y="229" width="20" height="524" fill="url(#cb)"/>
<rect x="1368" y="292" width="20" height="3" fill="#000"/>
<rect x="1368" y="358" width="20" height="3" fill="#000"/>
<rect x="1368" y="424" width="20" height="3" fill="#000"/>
<rect x="1368" y="490" width="20" height="3" fill="#000"/>
<rect x="1368" y="555" width="20" height="3" fill="#000"/>
<rect x="1368" y="621" width="20" height="3" fill="#000"/>
<rect x="1368" y="687" width="20" height="3" fill="#000"/>
</g>
<g style="filter:grayscale(1)">
<text transform="translate(183 89.6) scale(1.022 1)" font-size="48.5" text-anchor="start" font-style="italic">NYA6 5577 Å</text>
<text transform="translate(184 119.4) scale(1.067 1)" font-size="30.5" text-anchor="start" font-style="italic">2021-10-09 01:00-02:00 UT</text>
<text transform="translate(679.4 132) scale(1.05 1)" font-size="33" text-anchor="middle">MLT</text>
<text transform="translate(168.5 168)" font-size="33" text-anchor="middle">3.8</text>
<text transform="translate(423.5 168)" font-size="33" text-anchor="middle">4.0</text>
<text transform="translate(678.5 168)" font-size="33" text-anchor="middle">4.3</text>
<text transform="translate(933.5 168)" font-size="33" text-anchor="middle">4.5</text>
<text transform="translate(1188.5 168)" font-size="33" text-anchor="middle">4.8</text>
<text transform="translate(168.5 848.5)" font-size="33" text-anchor="middle">01:00</text>
<text transform="translate(423.5 848.5)" font-size="33" text-anchor="middle">01:15</text>
<text transform="translate(678.5 848.5)" font-size="33" text-anchor="middle">01:30</text>
<text transform="translate(933.5 848.5)" font-size="33" text-anchor="middle">01:45</text>
<text transform="translate(1188.5 848.5)" font-size="33" text-anchor="middle">02:00</text>
<text transform="translate(678.5 895)" font-size="33" text-anchor="middle">Time UT</text>
<text transform="translate(137 223)" font-size="33" text-anchor="end">18.1</text>
<text transform="translate(137 296)" font-size="33" text-anchor="end">40.8</text>
<text transform="translate(137 379.5)" font-size="33" text-anchor="end">61.6</text>
<text transform="translate(137 463)" font-size="33" text-anchor="end">80.7</text>
<text transform="translate(137 546.5)" font-size="33" text-anchor="end">81.3</text>
<text transform="translate(137 630)" font-size="33" text-anchor="end">62.2</text>
<text transform="translate(137 714)" font-size="33" text-anchor="end">41.2</text>
<text transform="translate(137 783)" font-size="33" text-anchor="end">18.0</text>
<text transform="translate(1220 223)" font-size="33" text-anchor="start">80.5</text>
<text transform="translate(1220 296)" font-size="33" text-anchor="start">78.0</text>
<text transform="translate(1220 379.5)" font-size="33" text-anchor="start">77.1</text>
<text transform="translate(1220 463)" font-size="33" text-anchor="start">76.6</text>
<text transform="translate(1220 546.5)" font-size="33" text-anchor="start">76.2</text>
<text transform="translate(1220 630)" font-size="33" text-anchor="start">75.7</text>
<text transform="translate(1220 714)" font-size="33" text-anchor="start">74.9</text>
<text transform="translate(1220 783)" font-size="33" text-anchor="start">72.4</text>
<text transform="translate(39 491) rotate(-90)" font-size="32.5" text-anchor="middle">Elevation</text>
<text transform="translate(1326 490.5) rotate(-90)" font-size="33" text-anchor="middle">MLAT</text>
<text transform="translate(1508.5 491.5) rotate(-90)" font-size="32.5" text-anchor="middle">Brightness [kR]</text>
<text transform="translate(1401.5 307)" font-size="33" text-anchor="start">0.44</text>
<text transform="translate(1401.5 373)" font-size="33" text-anchor="start">0.41</text>
<text transform="translate(1401.5 439)" font-size="33" text-anchor="start">0.39</text>
<text transform="translate(1401.5 505)" font-size="33" text-anchor="start">0.36</text>
<text transform="translate(1401.5 570)" font-size="33" text-anchor="start">0.33</text>
<text transform="translate(1401.5 636)" font-size="33" text-anchor="start">0.31</text>
<text transform="translate(1401.5 702)" font-size="33" text-anchor="start">0.29</text>
</g>
</svg>
</body></html>
